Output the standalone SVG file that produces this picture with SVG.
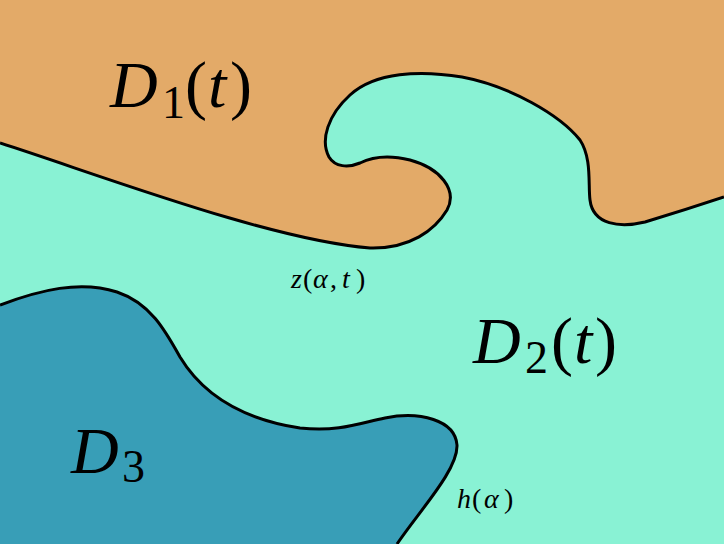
<svg xmlns="http://www.w3.org/2000/svg" width="724" height="544" viewBox="0 0 724 544">
<style>
.bd{stroke:#000;stroke-width:3;fill:none;stroke-linejoin:round}
.t{font-family:"Liberation Serif",serif;fill:#000}
.i{font-style:italic}
.big{font-size:66px}
.sub{font-size:46px}
.sm{font-size:28px}
</style>
<rect width="724" height="544" fill="#89F2D4"/>
<g id="D1">
<path d="M0,0 H724 V197 C700,205 675,213 645,222 C620,228 593,225 590,200 C588,185 592,158 580,140 C560,115 510,86 462,77 C420,70 375,72 350,95 C328,115 320,140 329,157 C335,167 348,168 360,163 C372,157 390,155 410,160 C440,168 458,190 447,210 C435,230 410,249 370,248 C270,240 100,175 0,143 Z" fill="#E3AA68"/>
</g>
<g id="D3">
<path d="M0,305 C40,290 80,280 117,292 C150,303 165,330 180,357 C200,390 235,418 300,428 C340,432 360,423 385,418 C420,411 455,420 457,445 C458,470 420,510 397,544 H0 Z" fill="#389EB7"/>
</g>
<g id="connectors">
<path id="z" class="bd" d="M0,143 C100,175 270,240 370,248 C410,249 435,230 447,210 C458,190 440,168 410,160 C390,155 372,157 360,163 C348,168 335,167 329,157 C320,140 328,115 350,95 C375,72 420,70 462,77 C510,86 560,115 580,140 C592,158 588,185 590,200 C593,225 620,228 645,222 C675,213 700,205 724,197"/>
<path id="h" class="bd" d="M0,305 C40,290 80,280 117,292 C150,303 165,330 180,357 C200,390 235,418 300,428 C340,432 360,423 385,418 C420,411 455,420 457,445 C458,470 420,510 397,544"/>
</g>
<g id="labels" class="t">
<text class="big"><tspan class="i" x="110" y="107">D</tspan><tspan class="sub" x="162" y="118">1</tspan><tspan x="185" y="107">(</tspan><tspan class="i" x="208" y="107">t</tspan><tspan x="230" y="107">)</tspan></text>
<text class="big"><tspan class="i" x="473" y="363">D</tspan><tspan class="sub" x="525" y="373">2</tspan><tspan x="551" y="363">(</tspan><tspan class="i" x="574" y="363">t</tspan><tspan x="595" y="363">)</tspan></text>
<text class="big"><tspan class="i" x="71" y="473">D</tspan><tspan class="sub" x="122" y="482">3</tspan></text>
<text class="sm"><tspan class="i" x="291" y="288">z</tspan><tspan x="303" y="288">(</tspan><tspan class="i" x="313" y="288">α</tspan><tspan x="330" y="288">,</tspan><tspan class="i" x="342" y="288">t</tspan><tspan x="356" y="288">)</tspan></text>
<text class="sm"><tspan class="i" x="457" y="508">h</tspan><tspan x="472" y="508">(</tspan><tspan class="i" x="484" y="508">α</tspan><tspan x="504" y="508">)</tspan></text>
</g>
</svg>
